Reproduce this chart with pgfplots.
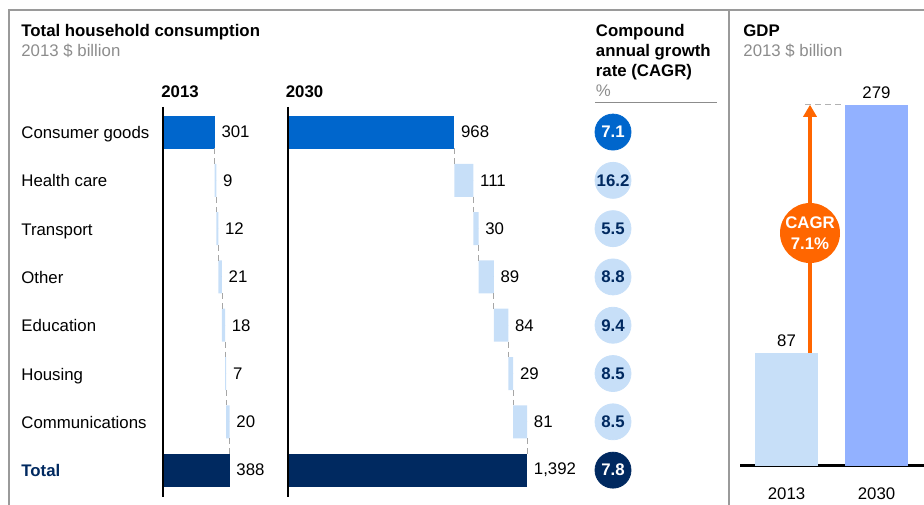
\documentclass[border=0pt]{standalone}
\usepackage{fontspec}
\setmainfont{Liberation Sans}
\usepackage{pgfplots}
\pgfplotsset{compat=1.18}
\usetikzlibrary{arrows.meta}

\definecolor{cblue}{HTML}{0066CC}
\definecolor{clight}{HTML}{C7DFF8}
\definecolor{cnavy}{HTML}{002960}
\definecolor{cperi}{HTML}{92B1FF}
\definecolor{corange}{HTML}{FF6600}
\definecolor{cgraytext}{HTML}{8C8C8C}
\definecolor{cframe}{HTML}{9A9A9A}

% waterfall panels share one geometry (1 px = 0.5pt)
\pgfplotsset{
  wf/.style={
    scale only axis, width=128.85pt, height=193.2pt,
    xmin=0, xmax=1500, ymin=-0.5, ymax=7.5, y dir=reverse,
    hide axis, clip=false, enlargelimits=false, anchor=north west,
  },
  vlabels/.style={
    only marks, mark=*, mark size=0pt, mark options={draw=none,fill=none},
    nodes near coords, point meta=explicit symbolic,
    nodes near coords style={anchor=west, inner sep=0pt, xshift=3.2pt, text=black,
      font=\fontsize{8.4}{10}\selectfont},
  },
  conn/.style={gray!70, densely dashed, line width=0.4pt, unbounded coords=jump},
  bubbles/.style={
    only marks, mark=*, mark size=9pt,
    nodes near coords, point meta=explicit symbolic,
    nodes near coords style={anchor=center, font=\fontsize{8.4}{10}\selectfont\bfseries},
  },
}

\begin{document}
\fontsize{8.4}{10}\selectfont
\begin{tikzpicture}[x=0.5pt,y=0.5pt]
\useasboundingbox (0,0) rectangle (924,504);

% frame
\draw[cframe, line width=1pt] (9,-5) -- (9,494) -- (930,494);
\draw[cframe, line width=1pt] (728.7,494) -- (728.7,-5);

% headings
\node[anchor=base west, inner sep=0pt, font=\bfseries] at (21,467) {Total household consumption};
\node[anchor=base west, inner sep=0pt, text=cgraytext] at (21,447) {2013 \$ billion};
\node[anchor=base west, inner sep=0pt, font=\bfseries] at (161,406.5) {2013};
\node[anchor=base west, inner sep=0pt, font=\bfseries] at (285.5,406.5) {2030};
\node[anchor=base west, inner sep=0pt, font=\bfseries] at (595.5,467.5) {Compound};
\node[anchor=base west, inner sep=0pt, font=\bfseries] at (595.5,447.5) {annual growth};
\node[anchor=base west, inner sep=0pt, font=\bfseries] at (595.5,427.5) {rate (CAGR)};
\node[anchor=base west, inner sep=0pt, text=cgraytext] at (595.5,407) {\%};
\draw[cgraytext, line width=0.5pt] (595,401.7) -- (717,401.7);
\node[anchor=base west, inner sep=0pt, font=\bfseries] at (743,467) {GDP};
\node[anchor=base west, inner sep=0pt, text=cgraytext] at (743,447) {2013 \$ billion};

% row labels
\foreach \lab [count=\i from 0] in {Consumer goods,Health care,Transport,Other,Education,Housing,Communications}
  \node[anchor=base west, inner sep=0pt] at (21,{365.5-48.3*\i}) {\lab};
\node[anchor=base west, inner sep=0pt, font=\bfseries, text=cnavy] at (21,27.4) {Total};

% 2013 waterfall
\begin{axis}[wf, at={(81.5pt,198.05pt)}, xbar stacked, bar width=16.5pt]
  \addplot[draw=none, fill=none] coordinates {(0,0) (301,1) (310,2) (322,3) (343,4) (361,5) (368,6) (0,7)};
  \addplot[draw=none, fill=cblue] coordinates {(301,0) (0,1) (0,2) (0,3) (0,4) (0,5) (0,6) (0,7)};
  \addplot[draw=none, fill=clight] coordinates {(0,0) (9,1) (12,2) (21,3) (18,4) (7,5) (20,6) (0,7)};
  \addplot[draw=none, fill=cnavy] coordinates {(0,0) (0,1) (0,2) (0,3) (0,4) (0,5) (0,6) (388,7)};
\end{axis}
\begin{axis}[wf, at={(81.5pt,198.05pt)}]
  \draw[black, line width=1pt] (axis cs:0,-0.52) -- (axis cs:0,7.56);
  \addplot[conn] coordinates {(301,0.34) (301,0.66) (nan,nan) (310,1.34) (310,1.66) (nan,nan)
    (322,2.34) (322,2.66) (nan,nan) (343,3.34) (343,3.66) (nan,nan) (361,4.34) (361,4.66) (nan,nan)
    (368,5.34) (368,5.66) (nan,nan) (388,6.34) (388,6.66)};
  \addplot[vlabels] coordinates {(301,0) [301] (310,1) [9] (322,2) [12] (343,3) [21]
    (361,4) [18] (368,5) [7] (388,6) [20] (388,7) [388]};
\end{axis}

% 2030 waterfall
\begin{axis}[wf, at={(144pt,198.05pt)}, xbar stacked, bar width=16.5pt]
  \addplot[draw=none, fill=none] coordinates {(0,0) (968,1) (1079,2) (1109,3) (1198,4) (1282,5) (1311,6) (0,7)};
  \addplot[draw=none, fill=cblue] coordinates {(968,0) (0,1) (0,2) (0,3) (0,4) (0,5) (0,6) (0,7)};
  \addplot[draw=none, fill=clight] coordinates {(0,0) (111,1) (30,2) (89,3) (84,4) (29,5) (81,6) (0,7)};
  \addplot[draw=none, fill=cnavy] coordinates {(0,0) (0,1) (0,2) (0,3) (0,4) (0,5) (0,6) (1392,7)};
\end{axis}
\begin{axis}[wf, at={(144pt,198.05pt)}]
  \draw[black, line width=1pt] (axis cs:0,-0.52) -- (axis cs:0,7.56);
  \addplot[conn] coordinates {(968,0.34) (968,0.66) (nan,nan) (1079,1.34) (1079,1.66) (nan,nan)
    (1109,2.34) (1109,2.66) (nan,nan) (1198,3.34) (1198,3.66) (nan,nan) (1282,4.34) (1282,4.66) (nan,nan)
    (1311,5.34) (1311,5.66) (nan,nan) (1392,6.34) (1392,6.66)};
  \addplot[vlabels] coordinates {(968,0) [968] (1079,1) [111] (1109,2) [30] (1198,3) [89]
    (1282,4) [84] (1311,5) [29] (1392,6) [81] (1392,7) [1{,}392]};
\end{axis}

% CAGR bubbles
\begin{axis}[scale only axis, width=18pt, height=193.2pt, xmin=0, xmax=1,
  ymin=-0.5, ymax=7.5, y dir=reverse, hide axis, clip=false,
  anchor=north west, at={(297.5pt,198.05pt)}]
  \addplot[bubbles, color=cblue, mark options={fill=cblue}, nodes near coords style={text=white}]
    coordinates {(0.5,0) [7.1]};
  \addplot[bubbles, color=clight, mark options={fill=clight}, nodes near coords style={text=cnavy}]
    coordinates {(0.5,1) [16.2] (0.5,2) [5.5] (0.5,3) [8.8] (0.5,4) [9.4] (0.5,5) [8.5] (0.5,6) [8.5]};
  \addplot[bubbles, color=cnavy, mark options={fill=cnavy}, nodes near coords style={text=white}]
    coordinates {(0.5,7) [7.8]};
\end{axis}

% GDP
\begin{axis}[at={(370pt,19.25pt)}, anchor=south west, scale only axis,
  width=92pt, height=193.95pt,
  xmin=-0.5167, xmax=1.5278, ymin=0, ymax=300,
  enlargelimits=false, clip=false,
  axis x line=bottom, axis y line=none,
  x axis line style={-, line width=1.4pt},
  xtick={0,1}, xticklabels={2013,2030}, major tick length=0pt,
  xticklabel style={anchor=center, yshift=-14pt, font=\fontsize{8.4}{10}\selectfont},
  ytick=\empty,
  ybar, bar width=31.5pt,
  nodes near coords style={font=\fontsize{8.4}{10}\selectfont, text=black},
]
  \addplot[draw=none, fill=clight, bar shift=0pt, nodes near coords, point meta=explicit symbolic]
    coordinates {(0,87) [87]};
  \addplot[draw=none, fill=cperi, bar shift=0pt, nodes near coords, point meta=explicit symbolic]
    coordinates {(1,279) [279]};
  \draw[gray!60, densely dashed, line width=0.5pt] (axis cs:0.206,279) -- (axis cs:0.65,279);
  \draw[corange, line width=1.8pt, -{Triangle[length=6pt,width=6.5pt]}]
    (axis cs:0.261,87) -- (axis cs:0.261,279);
  \node[circle, fill=corange, minimum size=30pt, inner sep=0pt, text=white, align=center,
    font=\fontsize{8.4}{10.5}\selectfont\bfseries] at (axis cs:0.261,179.8) {CAGR\\7.1\%};
\end{axis}
\end{tikzpicture}
\end{document}
